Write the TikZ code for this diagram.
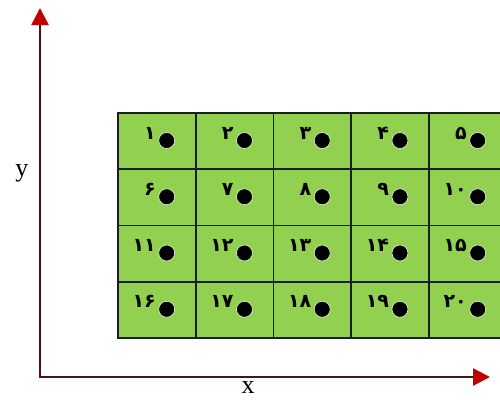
\documentclass[tikz,border=0pt]{standalone}
\usepackage{fontspec}
\setmainfont{Liberation Serif}
\newfontfamily\fa[Script=Arabic]{DejaVu Sans}
\usetikzlibrary{arrows.meta}
\definecolor{cellgreen}{HTML}{92D050}
\definecolor{axiscol}{HTML}{4A1414}
\definecolor{tipred}{HTML}{C00000}
\definecolor{gridcol}{HTML}{1C1C28}
\begin{document}
\begin{tikzpicture}[x=1pt,y=-1pt,
  cellbox/.style={draw=gridcol,fill=cellgreen,line width=1.8pt,minimum width=77.75pt,minimum height=56.25pt,inner sep=0,outer sep=0,anchor=north west},
  dotmark/.style={circle,fill=black,draw=white!80!cellgreen,line width=0.6pt,minimum size=16pt,inner sep=0},
  numlabel/.style={font=\fa\bfseries\fontsize{19}{19}\selectfont,anchor=east,inner sep=0},
  axis/.style={draw=axiscol,line width=2.5pt,{Triangle[length=17pt,width=17pt,color=tipred]}-{Triangle[length=17pt,width=17pt,color=tipred]}},
  axlabel/.style={font=\fontsize{26}{26}\selectfont,inner sep=0}]
\useasboundingbox (0,0) rectangle (500,399);
\clip (0,0) rectangle (500,399);
\foreach \lab [count=\i from 0] in {۱,۲,۳,۴,۵,۶,۷,۸,۹,۱۰,۱۱,۱۲,۱۳,۱۴,۱۵,۱۶,۱۷,۱۸,۱۹,۲۰} {
  \pgfmathtruncatemacro\r{int(\i/5)}
  \pgfmathtruncatemacro\c{mod(\i,5)}
  \node[cellbox] (cell\i) at ({118+\c*77.75},{113+\r*56.25}) {};
  \node[dotmark] (dot\i) at ({166.7+\c*77.75},{140.5+\r*56.25}) {};
  \node[numlabel] (num\i) at ({156+\c*77.75},{133+\r*56.25}) {\lab};
}
\coordinate (ytip) at (40,8);
\coordinate (xtip) at (490,377);
\draw[axis] (ytip) |- (xtip);
\node[axlabel] (ylab) at (22,173) {y};
\node[axlabel] (xlab) at (248,388) {x};
\end{tikzpicture}
\end{document}
